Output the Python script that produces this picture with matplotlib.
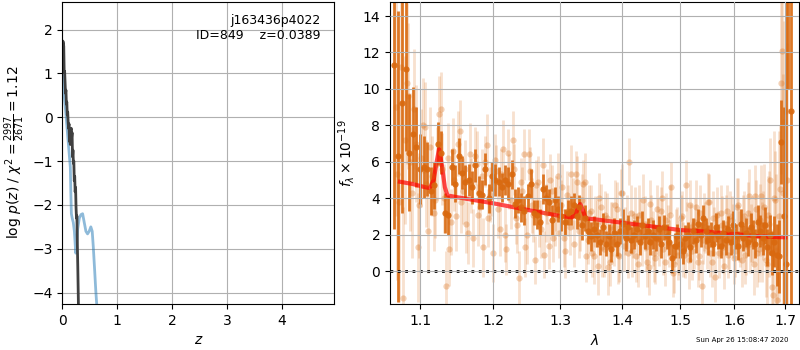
import matplotlib
matplotlib.use("Agg")
import matplotlib.pyplot as plt
import numpy as np
from matplotlib.ticker import FixedLocator, FormatStrFormatter, NullLocator

# ---------------- left panel: log p(z) ----------------
z_fine = [0.004, 0.010, 0.018, 0.026, 0.034, 0.042, 0.050, 0.058, 0.066, 0.074,
          0.082, 0.090, 0.098, 0.106, 0.114, 0.122, 0.130, 0.138, 0.146, 0.154,
          0.162, 0.170, 0.178, 0.186, 0.194, 0.202, 0.210, 0.218, 0.226, 0.234,
          0.242, 0.250, 0.258, 0.266, 0.274, 0.282, 0.290, 0.298]
logpz_fine = [1.35, 1.74, 1.70, 1.62, 1.02, 1.05, 0.80, 0.55, 0.62, 0.30,
              0.35, 0.05, 0.12, -0.10, -0.25, -0.15, -0.55, -0.40, -0.62, -0.30,
              -0.25, -0.45, -0.35, -0.90, -0.75, -1.05, -1.00, -1.45, -1.35, -1.70,
              -1.60, -2.05, -2.30, -2.25, -2.90, -3.40, -4.00, -4.60]

z_coarse = [0.01, 0.03, 0.06, 0.085, 0.11, 0.13, 0.146, 0.155, 0.165, 0.18,
            0.20, 0.22, 0.245, 0.26, 0.28, 0.31, 0.34, 0.37, 0.40, 0.43,
            0.46, 0.49, 0.52, 0.545, 0.565, 0.59, 0.61, 0.64]
logpz_coarse = [0.95, 0.55, 0.15, -0.22, -0.60, -0.90, -1.14, -1.70, -2.20, -2.30,
                -2.40, -2.60, -3.10, -2.95, -2.55, -2.30, -2.22, -2.20, -2.40, -2.60,
                -2.66, -2.60, -2.50, -2.60, -2.96, -3.50, -3.95, -4.50]

# ---------------- right panel: spectrum ----------------
# combined spectrum (dark points)
flux_dark = [
    11.3, 6.3, 9.2, 11.1, 6.5, 7.5, 6.8, 5.6, 5.7, 5.6,
    4.4, 4.7, 7.0, 6.5, 3.2, 3.1, 5.7, 4.8, 6.3, 5.4,
    4.9, 5.0, 4.6, 5.8, 4.3, 4.2, 5.6, 4.0, 5.2, 5.0,
    4.9, 4.6, 5.0, 4.8, 5.3, 3.7, 3.9, 3.5, 3.3, 4.1,
    4.8, 3.2, 3.1, 2.7, 4.5, 4.0, 3.8, 2.8, 3.9, 3.4,
    3.0, 2.7, 3.2, 3.3, 3.6, 3.0, 3.5, 2.5, 2.9, 2.2,
    1.9, 2.3, 2.0, 1.6, 2.4, 1.5, 1.9, 1.2, 2.1, 1.5,
    2.2, 2.6, 1.8, 2.4, 1.7, 2.0, 2.3, 1.6, 2.5, 1.9,
    2.2, 1.6, 2.0, 1.8, 2.3, 1.5, 2.4, 1.9, 1.6, 0.7,
    1.4, 1.9, 1.5, 1.1, 1.8, 2.0, 1.3, 2.2, 1.7, 2.6,
    2.0, 2.9, 2.2, 1.7, 2.0, 1.5, 2.4, 1.9, 1.4, 2.1,
    1.7, 2.3, 1.6, 2.5, 1.9, 1.4, 2.6, 1.8, 2.1, 1.6,
    2.4, 2.0, 1.5, 2.7, 2.2, 1.8, 2.5, 1.3, 2.0, 1.0,
    1.6, 0.9, 0.8, 7.1, 3.0, 0.4, 22.0, 8.8]
err_dark = [
    9.0, 8.0, 6.0, 4.5, 3.2, 2.6, 2.2, 1.9, 1.7, 1.5,
    1.3, 1.3, 1.2, 1.2, 1.1, 1.1, 1.0, 1.0, 1.0, 0.9,
    0.9, 0.9, 0.9, 0.9, 0.9, 0.8, 0.9, 0.8, 0.8, 0.9,
    0.8, 0.8, 0.8, 0.9, 0.8, 0.8, 0.7, 0.8, 0.8, 0.7,
    0.8, 0.7, 0.8, 0.7, 0.8, 0.7, 0.7, 0.8, 0.7, 0.7,
    0.8, 0.7, 0.7, 0.8, 0.7, 0.7, 0.7, 0.8, 0.7, 0.7,
    0.8, 0.7, 0.7, 0.7, 0.8, 0.7, 0.7, 0.7, 0.8, 0.7,
    0.7, 0.8, 0.7, 0.7, 0.7, 0.8, 0.7, 0.7, 0.8, 0.7,
    0.7, 0.7, 0.8, 0.7, 0.7, 0.8, 0.7, 0.7, 0.7, 0.8,
    0.7, 0.7, 0.8, 0.7, 0.7, 0.7, 0.8, 0.7, 0.7, 0.8,
    0.7, 0.7, 0.7, 0.8, 0.7, 0.7, 0.8, 0.7, 0.7, 0.7,
    0.8, 0.7, 0.7, 0.8, 0.7, 0.8, 0.8, 0.7, 0.8, 0.8,
    0.8, 0.8, 0.8, 0.9, 0.9, 0.9, 1.0, 1.0, 1.1, 1.2,
    1.4, 1.7, 2.0, 2.3, 6.0, 16.0, 12.0, 16.0]

# individual beams (light points)
flux_beam_a = [
    9.0, 3.8, -1.5, 10.3, 6.0, 8.9, 1.3, 6.2, 7.9, 2.2,
    5.2, 3.9, 8.6, 5.6, -0.8, 1.2, 6.6, 3.0, 7.7, 4.4,
    2.6, 6.4, 1.8, 5.9, 3.5, 1.3, 6.9, 4.2, 1.0, 5.5,
    2.3, 6.7, 1.2, 4.9, 7.2, 2.9, -0.4, 4.4, 1.3, 6.4,
    3.6, 0.6, 4.9, 2.3, 0.9, 4.1, 5.0, 1.8, 3.7, 2.1,
    4.6, 1.1, 3.3, 5.3, 1.5, 4.9, 2.6, 4.8, 0.8, 3.2,
    1.0, 2.7, 0.3, 3.5, 1.2, 2.9, 0.5, 2.3, 3.6, 0.9,
    4.3, 1.4, 2.7, 6.0, 1.1, 3.0, 0.4, 2.5, 3.9, 1.3,
    0.2, 2.8, 1.0, 3.4, 1.7, 4.0, 0.5, 2.2, 3.1, -0.1,
    1.9, 0.9, 2.9, 1.2, 4.7, 0.6, 2.4, 1.5, 3.5, 0.8,
    -0.8, 2.7, 1.4, 3.8, 0.5, 2.2, 3.1, 1.0, 2.5, 0.3,
    3.3, 1.6, 2.8, 0.7, 3.5, 1.9, 0.6, 3.0, 1.4, 4.1,
    2.1, 0.4, 3.4, 1.2, 4.1, 2.5, 0.6, 3.1, 5.0, -1.3,
    3.9, -1.6, 4.5, 12.1, 8.2, 5.0]
err_beam_a = [
    6.0, 5.5, 5.0, 4.4, 3.8, 3.3, 3.0, 2.7, 2.5, 2.3,
    2.2, 2.1, 2.1, 2.0, 1.9, 2.0, 1.8, 1.9, 1.7, 1.8,
    1.6, 1.7, 1.6, 1.8, 1.5, 1.6, 1.7, 1.5, 1.6, 1.4,
    1.5, 1.6, 1.4, 1.5, 1.6, 1.4, 1.5, 1.3, 1.6, 1.4,
    1.5, 1.3, 1.4, 1.6, 1.3, 1.5, 1.4, 1.3, 1.5, 1.4,
    1.3, 1.5, 1.4, 1.6, 1.3, 1.4, 1.5, 1.3, 1.4, 1.5,
    1.3, 1.4, 1.6, 1.3, 1.5, 1.4, 1.3, 1.5, 1.4, 1.6,
    1.3, 1.4, 1.5, 1.3, 1.4, 1.6, 1.3, 1.5, 1.4, 1.3,
    1.5, 1.4, 1.6, 1.3, 1.4, 1.5, 1.3, 1.4, 1.6, 1.3,
    1.5, 1.4, 1.3, 1.5, 1.4, 1.6, 1.3, 1.4, 1.5, 1.3,
    1.4, 1.6, 1.3, 1.5, 1.4, 1.3, 1.5, 1.4, 1.6, 1.3,
    1.4, 1.5, 1.3, 1.4, 1.6, 1.4, 1.5, 1.4, 1.6, 1.5,
    1.6, 1.7, 1.6, 1.8, 1.7, 1.9, 2.0, 2.1, 2.3, 2.5,
    2.7, 3.0, 3.5, 4.2, 5.5, 7.5]

flux_beam_b = [
    5.3, 11.2, 7.2, 9.6, 4.3, 7.0, 3.6, 8.0, 4.8, 6.8,
    3.2, 5.9, 8.9, 4.0, 6.2, 2.7, 5.0, 7.0, 3.8, 5.6,
    2.1, 4.7, 6.3, 3.1, 5.2, 6.0, 2.9, 4.5, 6.1, 3.4,
    5.3, 2.0, 6.5, 3.9, 5.6, 2.5, 4.9, 6.4, 2.0, 5.5,
    3.1, 4.7, 2.6, 5.8, 3.2, 1.4, 4.4, 2.9, 5.2, 3.6,
    1.8, 4.2, 2.4, 3.7, 5.3, 2.2, 3.9, 4.9, 1.7, 3.3,
    0.8, 2.6, 4.0, 1.3, 3.1, 0.2, 2.4, 1.6, 3.4, 0.8,
    4.3, 2.2, 1.0, 3.2, 2.0, 0.8, 3.1, 1.6, 2.6, 0.5,
    3.7, 1.8, 0.7, 2.4, 3.3, 1.2, 2.8, 1.5, 4.6, 0.4,
    2.2, 1.3, 3.0, 0.9, 2.3, 3.6, 1.1, 2.7, 0.5, 3.2,
    1.7, 2.4, 3.8, 1.0, 2.9, -0.3, 2.0, 3.2, 1.3, 2.6,
    0.9, 3.0, 2.2, 1.1, 3.6, 1.8, 2.7, 0.9, 3.2, 1.5,
    2.3, 4.1, 1.0, 2.8, 1.6, 3.5, 0.4, 2.6, -0.9, 4.0,
    1.1, 3.0, 10.3, 4.3, 8.8]
err_beam_b = [
    5.8, 5.2, 4.6, 4.0, 3.6, 3.2, 2.9, 2.6, 2.4, 2.2,
    2.1, 2.0, 2.0, 1.9, 1.9, 1.8, 1.7, 1.8, 1.7, 1.6,
    1.7, 1.5, 1.6, 1.7, 1.5, 1.4, 1.6, 1.5, 1.4, 1.6,
    1.4, 1.5, 1.3, 1.6, 1.4, 1.5, 1.3, 1.4, 1.6, 1.3,
    1.5, 1.4, 1.3, 1.5, 1.6, 1.3, 1.4, 1.5, 1.3, 1.4,
    1.6, 1.3, 1.5, 1.4, 1.3, 1.5, 1.4, 1.6, 1.3, 1.4,
    1.5, 1.3, 1.4, 1.6, 1.3, 1.5, 1.4, 1.3, 1.5, 1.4,
    1.6, 1.3, 1.4, 1.5, 1.3, 1.4, 1.6, 1.3, 1.5, 1.4,
    1.3, 1.5, 1.4, 1.6, 1.3, 1.4, 1.5, 1.3, 1.4, 1.6,
    1.3, 1.5, 1.4, 1.3, 1.5, 1.4, 1.6, 1.3, 1.4, 1.5,
    1.3, 1.4, 1.6, 1.3, 1.5, 1.4, 1.3, 1.5, 1.4, 1.6,
    1.3, 1.4, 1.5, 1.4, 1.5, 1.6, 1.5, 1.6, 1.7, 1.6,
    1.8, 1.7, 1.9, 2.0, 2.2, 2.4, 2.6, 2.9, 3.2, 3.7,
    4.2, 4.7, 5.0, 6.5, 8.0]

# wavelength grids (pixel sampling, microns)
wave_dark = 1.0670 + 0.0047 * np.arange(len(flux_dark))
wave_beam_a = 1.0685 + 0.0047 * np.arange(len(flux_beam_a))
wave_beam_b = 1.0708 + 0.0047 * np.arange(len(flux_beam_b))

# best-fit model
model_wave = [1.074, 1.090, 1.105, 1.113, 1.118, 1.122, 1.1252, 1.129, 1.133, 1.1365,
              1.150, 1.200, 1.250, 1.300, 1.318, 1.324, 1.328, 1.3315, 1.335, 1.339,
              1.343, 1.350, 1.400, 1.450, 1.500, 1.550, 1.600, 1.650, 1.700]
model_flux = [4.90, 4.78, 4.62, 4.55, 5.00, 6.00, 6.70, 5.80, 4.60, 4.15,
              4.05, 3.72, 3.36, 3.02, 2.95, 3.10, 3.50, 3.68, 3.40, 3.00,
              2.88, 2.86, 2.65, 2.45, 2.25, 2.16, 2.03, 1.90, 1.85]

orange = "#d9690f"

fig = plt.figure(figsize=(8, 3.5), dpi=100)
ax1 = fig.add_axes([0.0779, 0.1314, 0.34, 0.864])
ax2 = fig.add_axes([0.4875, 0.1314, 0.5116, 0.864])

# --- p(z)
ax1.plot(z_coarse, logpz_coarse, color="C0", alpha=0.5, lw=2)
ax1.plot(z_fine, logpz_fine, color="0.25", lw=2)
ax1.set_xlim(0, 4.96)
ax1.set_ylim(1.74 - 6, 1.74 + 0.9)
ax1.set_xticks([0, 1, 2, 3, 4])
ax1.set_yticks([-4, -3, -2, -1, 0, 1, 2])
ax1.set_xlabel(r"$z$")
ax1.set_ylabel(r"log $p(z)$" + " / " + r"$\chi^2=\frac{2997}{2671}=1.12$")
ax1.text(0.95, 0.96, "j163436p4022\nID=849    z=0.0389", transform=ax1.transAxes,
         ha="right", va="top", fontsize=9)
ax1.grid(True)

# --- spectrum
for wv, fl, er in [(wave_beam_a, flux_beam_a, err_beam_a),
                   (wave_beam_b, flux_beam_b, err_beam_b)]:
    pts, caps, bars = ax2.errorbar(wv, fl, yerr=er, fmt="o", color=orange,
                                   ms=4.5, elinewidth=2, capsize=0, mew=0)
    pts.set_alpha(0.3)
    for b in bars:
        b.set_alpha(0.2)
ax2.errorbar(wave_dark, flux_dark, yerr=err_dark, fmt="o", color=orange,
             alpha=0.9, ms=4.5, elinewidth=2, capsize=0, mew=0)
ax2.plot(model_wave, model_flux, color="r", alpha=0.7, lw=3)
ax2.axhline(0, color="k", ls=":", lw=2)

ax2.set_xscale("log")
ax2.set_xlim(1.0613, 1.7286)
ax2.set_ylim(-1.81, 14.79)
ax2.xaxis.set_major_locator(FixedLocator([1.1, 1.2, 1.3, 1.4, 1.5, 1.6, 1.7]))
ax2.xaxis.set_major_formatter(FormatStrFormatter("%.1f"))
ax2.xaxis.set_minor_locator(NullLocator())
ax2.set_yticks([0, 2, 4, 6, 8, 10, 12, 14])
ax2.set_xlabel(r"$\lambda$")
ax2.set_ylabel(r"$f_\lambda\times 10^{-19}$")
ax2.set_axisbelow(False)
ax2.grid(True)

fig.text(1 - 0.015, 0.02, "Sun Apr 26 15:08:47 2020", ha="right", va="bottom",
         fontsize=5)

fig.savefig("out.png", dpi=100)
